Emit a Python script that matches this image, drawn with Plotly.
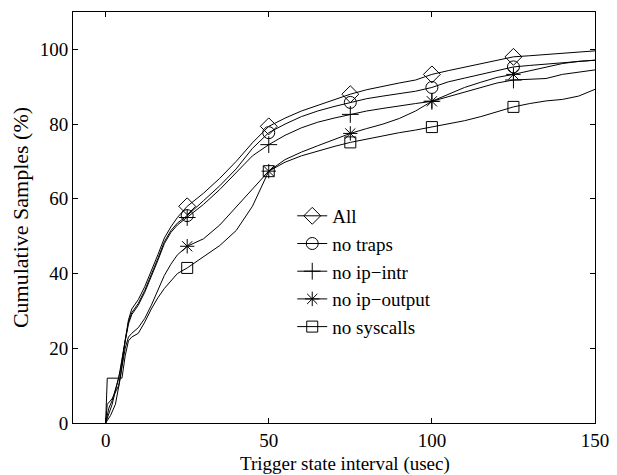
import plotly.graph_objects as go

# ---- data ----
x_all = [0, 2, 4.5, 6, 7, 8, 10, 12, 14, 16, 18, 20, 22, 25, 30, 35, 40, 45, 50, 55, 60, 65, 70, 75,
         80, 85, 90, 95, 100, 105, 110, 115, 120, 125, 130, 135, 140, 145, 150]
y_all = [0, 5, 14, 22, 27.6, 30.5, 33, 36.5, 40.5, 45, 49.5, 52.5, 55, 58, 61.5, 65.5, 70, 75, 79.4,
         81.6, 83.5, 85, 86.5, 88, 89.2, 90.2, 91, 91.8, 93.3, 94.3, 95.2, 96, 97, 98,
         98.3, 98.6, 99, 99.3, 99.6]

x_traps = [0, 1, 2, 4, 5, 6, 7, 8, 10, 12, 14, 16, 18, 20, 22, 25, 30, 35, 40, 45, 50, 55, 60, 65, 70,
           75, 80, 85, 90, 95, 100, 105, 110, 115, 120, 125, 130, 135, 140, 145, 150]
y_traps = [0, 4, 6, 12, 17, 22, 27, 29.5, 32, 35.5, 39.5, 44, 48.5, 51.5, 53.5, 55.5, 59.5, 63.5, 68,
           73.5, 77.7, 80, 82, 83.5, 84.7, 85.8, 86.8, 87.5, 88.2, 88.8, 89.8, 91.3, 92.3, 93.3,
           94.3, 95.3, 95.7, 96.1, 96.5, 96.8, 97.1]

x_intr = [0, 1.5, 3, 4.5, 6, 7, 8, 10, 12, 14, 16, 18, 20, 22, 25, 30, 35, 40, 45, 50, 55, 60, 65, 70,
          75, 80, 85, 90, 95, 100, 105, 110, 115, 120, 125, 130, 135, 140, 145, 150]
y_intr = [0, 2, 5, 12, 22, 26.5, 29, 31.5, 35, 39, 43.5, 48, 51, 53, 55, 58.5, 62.5, 67, 71.5, 74.5,
          77, 79, 80.5, 81.6, 82.6, 83.5, 84.2, 84.9, 85.5, 86.1, 87.3, 88.5, 89.8, 91, 91.8,
          92, 92.2, 93.3, 94, 94.5]

x_output = [0, 0.5, 2, 4, 5, 6, 7, 8, 10, 12, 14, 16, 18, 20, 22, 25, 30, 35, 40, 45, 50, 55, 60, 65,
            70, 75, 80, 85, 90, 95, 100, 105, 110, 115, 120, 125, 130, 135, 140, 145, 150]
y_output = [0, 5, 6.5, 10, 15, 20, 23, 24, 25.5, 28, 31.5, 35.5, 39.5, 42.5, 45, 47.3, 49.3, 53,
            57.8, 62.5, 67.4, 70.5, 72.5, 74.2, 75.8, 77.5, 78.8, 80, 81.5, 83.5, 86.1, 88, 89.8,
            91.2, 92.5, 93.3, 94.3, 95.3, 96.2, 96.8, 97.1]

x_sys = [0, 0.5, 5, 6, 7, 8, 10, 12, 14, 16, 18, 20, 22, 25, 30, 35, 40, 45, 50, 55, 60, 65, 70, 75,
         80, 85, 90, 95, 100, 105, 110, 115, 120, 125, 130, 135, 140, 145, 150]
y_sys = [0, 12, 12, 18, 22, 23, 24, 27, 30.5, 33.5, 36, 38, 40, 41.5, 44.5, 47.5, 51.5, 58, 67.4,
         69.8, 71.5, 72.8, 74, 75.1, 76, 76.9, 77.7, 78.4, 79.2, 80, 80.9, 82, 83.3, 84.6,
         85.5, 86.2, 86.6, 87.5, 89.3]

series_names = ["All", "no traps", "no ip\u2212intr", "no ip\u2212output", "no syscalls"]
marker_x = [25, 50, 75, 100, 125]
x_ticks = [0, 50, 100, 150]
y_ticks = [0, 20, 40, 60, 80, 100]

# ---- styling ----
FONT = "Liberation Serif, Times New Roman, serif"
symbols = ["diamond-open", "circle-open", "cross-thin-open", "asterisk-open", "square-open"]
msizes = [13, 12, 12, 12, 11]

xs = [x_all, x_traps, x_intr, x_output, x_sys]
ys = [y_all, y_traps, y_intr, y_output, y_sys]

# The browser page has an 8px body margin; size the figure so it fits the 617x475 window.
OFF = 8
W, H = 617 - OFF, 475 - OFF
PL, PR, PT, PB = 73, 595, 12, 423  # plot-area edges in window pixels

fig = go.Figure()
for name, x, y, sym, ms in zip(series_names, xs, ys, symbols, msizes):
    sel = [i for i, v in enumerate(x) if v in marker_x]
    fig.add_trace(go.Scatter(
        x=x, y=y, name=name, mode="lines+markers",
        line=dict(color="black", width=1),
        marker=dict(symbol=sym, size=ms, color="black",
                    line=dict(color="black", width=1)),
        selectedpoints=sel,
        selected=dict(marker=dict(opacity=1)),
        unselected=dict(marker=dict(opacity=0)),
    ))

axis_common = dict(
    showgrid=False, zeroline=False, showline=True, linecolor="black", linewidth=1,
    mirror="allticks", ticks="inside", ticklen=5, tickcolor="black",
    tickfont=dict(family=FONT, size=19, color="black"),
)
fig.update_xaxes(range=[-10, 150], tickvals=x_ticks, **axis_common)
fig.update_yaxes(range=[0, 110], tickvals=y_ticks,
                 title=dict(text="Cumulative Samples (%)",
                            font=dict(family=FONT, size=22, color="black"), standoff=8),
                 **axis_common)

fig.add_annotation(
    text="Trigger state interval (usec)", xref="paper", yref="paper",
    x=(345 - PL) / (PR - PL), y=0, yshift=-(464 - PB), xanchor="center", yanchor="middle",
    showarrow=False, font=dict(family=FONT, size=19, color="black"),
)

fig.update_layout(
    width=W, height=H,
    margin=dict(l=PL - OFF, r=617 - PR, t=PT - OFF, b=475 - PB),
    paper_bgcolor="white", plot_bgcolor="white",
    font=dict(family=FONT, size=19, color="black"),
    legend=dict(x=0.42, y=0.55, xanchor="left", yanchor="top",
                bgcolor="rgba(0,0,0,0)", borderwidth=0,
                font=dict(family=FONT, size=19, color="black")),
    showlegend=True,
    dragmode=False,
)

fig.write_html("out.html")
